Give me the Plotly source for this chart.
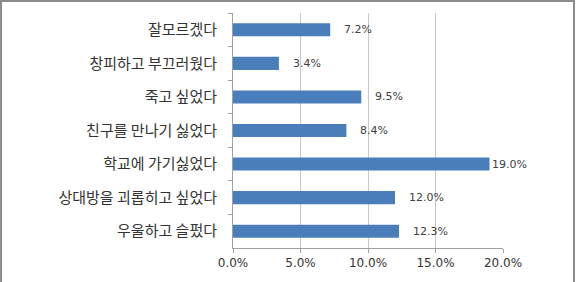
import plotly.graph_objects as go

categories = ["잘모르겠다", "창피하고 부끄러웠다", "죽고 싶었다", "친구를 만나기 싫었다",
              "학교에 가기싫었다", "상대방을 괴롭히고 싶었다", "우울하고 슬펐다"]
values = [0.072, 0.034, 0.095, 0.084, 0.190, 0.120, 0.123]
x_ticks = [0.0, 0.05, 0.10, 0.15, 0.20]

W, H = 581, 282
L, R, T, B = 233, 78, 13, 34
pw, ph = W - L - R, H - T - B

fig = go.Figure()
fig.add_trace(go.Bar(
    y=categories, x=values, orientation="h",
    marker=dict(color="#4a7ebb", line=dict(width=0)),
    hoverinfo="skip",
))

for c, v in zip(categories, values):
    fig.add_annotation(
        x=v, y=c, xref="x", yref="y", text=f"{v*100:.1f}%",
        showarrow=False, xanchor="left", yanchor="middle",
        xshift=(0 if v >= 0.19 else 12),
        font=dict(family="DejaVu Sans", size=11, color="#404040"),
    )

# outer frame (gray border on top, left, right)
fig.add_shape(type="line", xref="paper", yref="paper",
              x0=-(L - 1) / pw, x1=(W - L - 7) / pw, y0=1 + (T - 1) / ph, y1=1 + (T - 1) / ph,
              line=dict(color="#8c8c8c", width=2))
fig.add_shape(type="line", xref="paper", yref="paper",
              x0=-(L - 1) / pw, x1=-(L - 1) / pw, y0=1 + T / ph, y1=-B / ph,
              line=dict(color="#8c8c8c", width=2))
fig.add_shape(type="line", xref="paper", yref="paper",
              x0=(W - L - 7) / pw, x1=(W - L - 7) / pw, y0=1 + T / ph, y1=-B / ph,
              line=dict(color="#8c8c8c", width=2))

fig.update_layout(
    width=W, height=H,
    margin=dict(l=L, r=R, t=T, b=B),
    paper_bgcolor="white", plot_bgcolor="white",
    bargap=0.61,
    showlegend=False,
    font=dict(family="Noto Sans CJK KR", size=12, color="#333333"),
)
fig.update_xaxes(
    range=[0, 0.2], tickvals=x_ticks, tickformat=".1%",
    showgrid=True, gridcolor="#c8c8c8", gridwidth=1,
    showline=True, linecolor="#a0a0a0", linewidth=1,
    ticks="outside", ticklen=4, tickcolor="#a0a0a0",
    tickfont=dict(family="DejaVu Sans", size=12, color="#333333"),
    zeroline=False, fixedrange=True,
)
fig.update_yaxes(
    autorange="reversed", type="category",
    showline=True, linecolor="#a0a0a0", linewidth=1,
    ticks="outside", ticklen=4, tickcolor="#a0a0a0", tickson="boundaries",
    tickfont=dict(family="Noto Sans CJK KR", size=15, color="#333333"),
    ticklabelstandoff=12,
    showgrid=False, fixedrange=True,
)

fig.write_html("out.html")
